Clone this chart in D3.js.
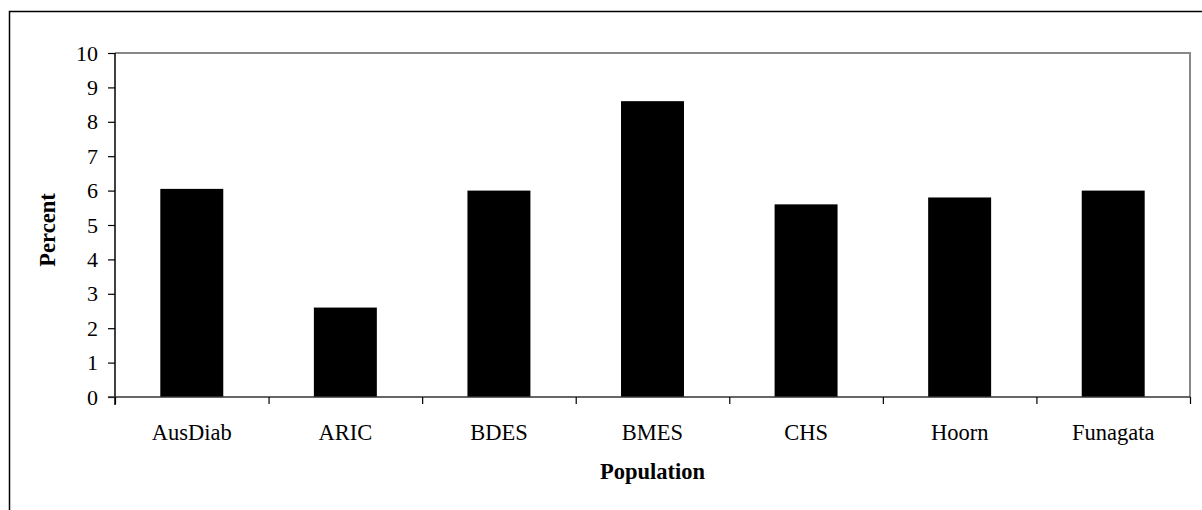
<!DOCTYPE html>
<html><head><meta charset="utf-8">
<script src="https://cdn.jsdelivr.net/npm/d3@7"></script>
<style>body{margin:0;background:#fff}svg{display:block}</style>
</head><body>
<svg id="c" width="1202" height="510"></svg>
<script>
const categories = ["AusDiab","ARIC","BDES","BMES","CHS","Hoorn","Funagata"];
const values = [6.05, 2.6, 6.0, 8.6, 5.6, 5.8, 6.0];
const yTicks = [0,1,2,3,4,5,6,7,8,9,10];
const xTitle = "Population";
const yTitle = "Percent";

const svg = d3.select("#c");
const W = 1202, H = 510;
const m = {left:115, right:1190, top:53, bottom:397};
const font = "'Liberation Serif', 'Times New Roman', serif";

svg.append("rect").attr("x",9.5).attr("y",11.5).attr("width",W).attr("height",H)
  .attr("fill","#fff").attr("stroke","#000").attr("stroke-width",1.5);

const x = d3.scaleBand().domain(categories).range([m.left, m.right]).paddingInner(0.59).paddingOuter(0.295);
const y = d3.scaleLinear().domain([0,10]).range([m.bottom, m.top]);

// plot border top/right
svg.append("path").attr("d",`M${m.left},${m.top}H${m.right}V${m.bottom}`)
  .attr("fill","none").attr("stroke","#888").attr("stroke-width",2);

svg.append("g").selectAll("rect").data(values).join("rect")
  .attr("x",(d,i)=>x(categories[i])).attr("width",x.bandwidth())
  .attr("y",d=>y(d)).attr("height",d=>y(0)-y(d)).attr("fill","#000");

const yAxis = svg.append("g").attr("transform",`translate(${m.left},0)`)
  .call(d3.axisLeft(y).tickValues(yTicks).tickSize(7).tickPadding(10).tickFormat(d3.format("d")));
yAxis.select(".domain").attr("stroke","#000").attr("stroke-width",1.5).attr("d",`M0,${m.top}V${m.bottom+8}`);
yAxis.selectAll(".tick line").attr("stroke","#000").attr("stroke-width",1.2);
yAxis.selectAll("text").attr("font-family",font).attr("font-size",22).attr("fill","#000");

// x axis with ticks at band boundaries
const xb = d3.scalePoint().domain(d3.range(categories.length+1)).range([m.left, m.right]);
const xg = svg.append("g").attr("transform",`translate(0,${m.bottom})`);
xg.call(d3.axisBottom(xb).tickSize(7).tickFormat(""));
xg.select(".domain").attr("stroke","#333").attr("stroke-width",1.5).attr("d",`M${m.left-7},0H${m.right}`);
xg.selectAll(".tick line").attr("stroke","#000").attr("stroke-width",1.2);

svg.append("g").selectAll("text").data(categories).join("text")
  .attr("x",d=>x(d)+x.bandwidth()/2).attr("y",440)
  .attr("text-anchor","middle").attr("font-family",font).attr("font-size",22.5).text(d=>d);

svg.append("text").attr("x",(m.left+m.right)/2).attr("y",479).attr("text-anchor","middle")
  .attr("font-family",font).attr("font-size",22.5).attr("font-weight","bold").text(xTitle);

svg.append("text").attr("transform",`translate(55,230) rotate(-90)`)
  .attr("text-anchor","middle").attr("font-family",font).attr("font-size",22.5).attr("font-weight","bold").text(yTitle);
</script>
</body></html>
